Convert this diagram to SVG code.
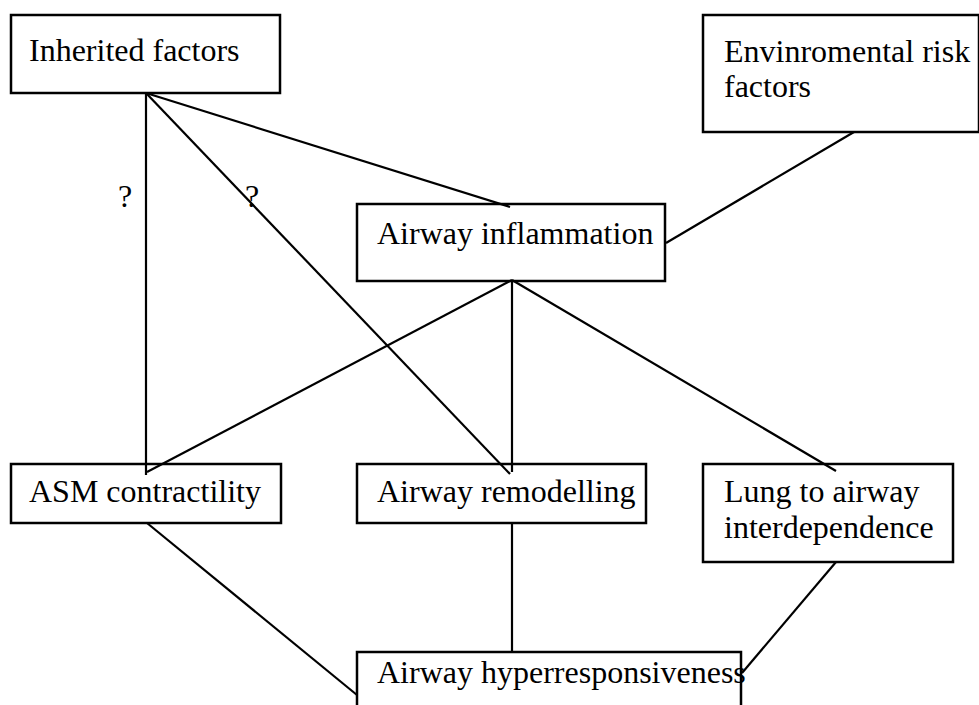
<svg xmlns="http://www.w3.org/2000/svg" width="979" height="705" viewBox="0 0 979 705">
<style>
.box{fill:#fff;stroke:#000;stroke-width:2.5}
.t{font-family:"Liberation Serif","Times New Roman",serif;font-size:32px;fill:#000}
.c line{stroke:#000;stroke-width:2.2;fill:none}
</style>
<rect width="979" height="705" fill="#fff"/>
<g id="n-inherited"><rect class="box" x="11" y="15" width="269" height="78"/><text class="t" x="29" y="61">Inherited factors</text></g>
<g id="n-env"><rect class="box" x="703" y="15" width="276" height="117"/><text class="t" x="724" y="62">Envinromental risk</text><text class="t" x="724" y="97">factors</text></g>
<g id="n-inflammation"><rect class="box" x="357" y="204" width="308" height="77"/><text class="t" x="377" y="244">Airway inflammation</text></g>
<g id="n-asm"><rect class="box" x="11" y="464" width="270" height="59"/><text class="t" x="29" y="502">ASM contractility</text></g>
<g id="n-remodelling"><rect class="box" x="357" y="464" width="289" height="59"/><text class="t" x="377" y="502">Airway remodelling</text></g>
<g id="n-lung"><rect class="box" x="703" y="464" width="250" height="98"/><text class="t" x="724" y="502">Lung to airway</text><text class="t" x="724" y="538">interdependence</text></g>
<g id="n-ahr"><rect class="box" x="357" y="652" width="384" height="60"/><text class="t" x="377" y="683">Airway hyperresponsiveness</text></g>
<g class="c" id="connectors">
<line x1="146" y1="93" x2="146" y2="475"/>
<line x1="146" y1="93" x2="510" y2="474"/>
<line x1="146" y1="93" x2="510" y2="207"/>
<line x1="854" y1="132" x2="666" y2="243"/>
<line x1="512" y1="280" x2="147" y2="472"/>
<line x1="512" y1="280" x2="512" y2="472"/>
<line x1="512" y1="280" x2="836" y2="471"/>
<line x1="147" y1="523" x2="357" y2="695"/>
<line x1="512" y1="523" x2="512" y2="652"/>
<line x1="836" y1="562" x2="742" y2="673"/>
</g>
<text class="t" x="118" y="207">?</text>
<text class="t" x="245" y="207">?</text>
</svg>
